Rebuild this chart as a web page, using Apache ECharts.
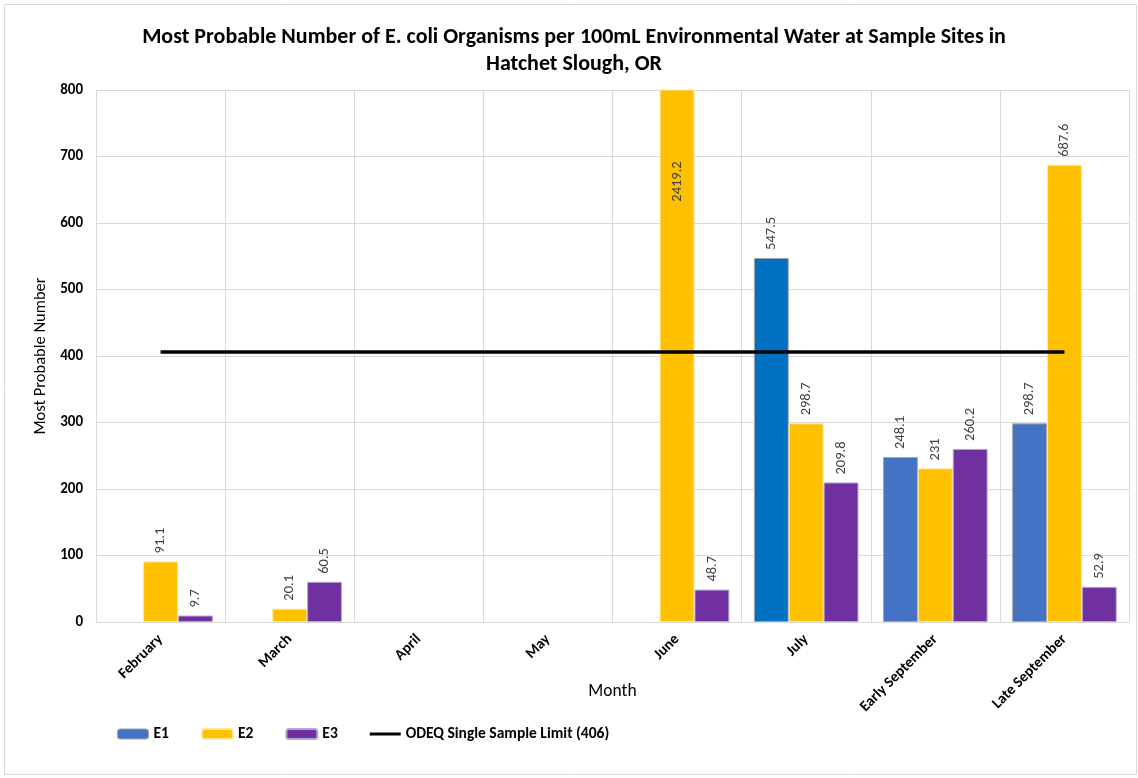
<!DOCTYPE html>
<html><head><meta charset="utf-8">
<script src="https://cdn.jsdelivr.net/npm/echarts@6/dist/echarts.min.js"></script>
<style>html,body{margin:0;padding:0;background:#fff}#c{width:1138px;height:778px}</style>
</head><body><div id="c"></div>
<script>
const categories = ['February','March','April','May','June','July','Early September','Late September'];
const e1 = [null, null, null, null, null, 547.5, 248.1, 298.7];
const e2 = [91.1, 20.1, null, null, 2419.2, 298.7, 231, 687.6];
const e3 = [9.7, 60.5, null, null, 48.7, 209.8, 260.2, 52.9];
const limit = [406, 406, 406, 406, 406, 406, 406, 406];
const yTicks = {min: 0, max: 800, interval: 100};

const FONT = 'Carlito, "Liberation Sans Narrow", "Liberation Sans", sans-serif';
const chart = echarts.init(document.getElementById('c'));
const lbl = {show: true, position: 'top', rotate: 90, align: 'left', verticalAlign: 'middle', distance: 8,
  fontFamily: FONT, fontSize: 14.5, color: '#404040'};
function mk(arr, name) {
  return arr.map((v, i) => {
    const d = {value: v};
    if (name === 'E1' && categories[i] === 'July') d.itemStyle = {color: '#0070C0'};
    if (v !== null && v > yTicks.max) d.label = {position: ['50%', 92], align: 'center', verticalAlign: 'middle', distance: 0};
    return d;
  });
}
chart.setOption({
  animation: false,
  graphic: [{type: 'rect', shape: {x: 4.5, y: 4.5, width: 1132, height: 770}, style: {fill: 'none', stroke: '#d9d9d9', lineWidth: 1}, silent: true}],
  title: {text: 'Most Probable Number of E. coli Organisms per 100mL Environmental Water at Sample Sites in\nHatchet Slough, OR',
    left: 569, textAlign: 'center', top: 19,
    textStyle: {fontFamily: FONT, fontWeight: 'bold', fontSize: 22, lineHeight: 27, color: '#000'}},
  grid: {left: 96, right: 9, top: 90, bottom: 156, containLabel: false},
  legend: {left: 112, top: 721, itemWidth: 31, itemHeight: 10, itemGap: 32,
    textStyle: {fontFamily: FONT, fontWeight: 'bold', fontSize: 15.5, color: '#000'},
    data: [{name: 'E1', itemStyle: {color: '#4472C4', borderColor: '#A6A6A6', borderWidth: 1}},
      {name: 'E2'}, {name: 'E3'},
      {name: 'ODEQ Single Sample Limit (406)', icon: 'path://M0,0L31,0L31,3L0,3Z', itemStyle: {color: '#000'}}]},
  xAxis: {type: 'category', data: categories, name: 'Month', nameLocation: 'middle', nameGap: 61, nameMoveOverlap: false,
    nameTextStyle: {fontFamily: FONT, fontSize: 17.5, color: '#000'},
    axisLine: {lineStyle: {color: '#d9d9d9', width: 1}}, axisTick: {show: false},
    splitLine: {show: true, lineStyle: {color: '#d9d9d9', width: 1}},
    axisLabel: {rotate: 45, interval: 0, fontFamily: FONT, fontWeight: 'bold', fontSize: 15, color: '#000', margin: 15}},
  yAxis: {type: 'value', min: yTicks.min, max: yTicks.max, interval: yTicks.interval,
    name: 'Most Probable Number', nameLocation: 'middle', nameGap: 47, nameMoveOverlap: false,
    nameTextStyle: {fontFamily: FONT, fontSize: 16.5, color: '#000'},
    axisLine: {show: false}, axisTick: {show: false},
    splitLine: {lineStyle: {color: '#d9d9d9', width: 1}},
    axisLabel: {fontFamily: FONT, fontWeight: 'bold', fontSize: 15, color: '#000', margin: 13}},
  series: [
    {name: 'E1', type: 'bar', data: mk(e1, 'E1'), barGap: '0%', barCategoryGap: '19%',
      itemStyle: {color: '#4472C4', borderColor: '#A6A6A6', borderWidth: 1}, label: lbl},
    {name: 'E2', type: 'bar', data: mk(e2, 'E2'), barGap: '0%', barCategoryGap: '19%',
      itemStyle: {color: '#FFC000', borderColor: '#FFE699', borderWidth: 1}, label: lbl},
    {name: 'E3', type: 'bar', data: mk(e3, 'E3'), barGap: '0%', barCategoryGap: '19%',
      itemStyle: {color: '#7030A0', borderColor: '#B4A7D6', borderWidth: 1}, label: lbl},
    {name: 'ODEQ Single Sample Limit (406)', type: 'line', data: limit, symbol: 'none', z: 5,
      lineStyle: {color: '#000', width: 3.5}, itemStyle: {color: '#000'}}
  ]
});
</script></body></html>
